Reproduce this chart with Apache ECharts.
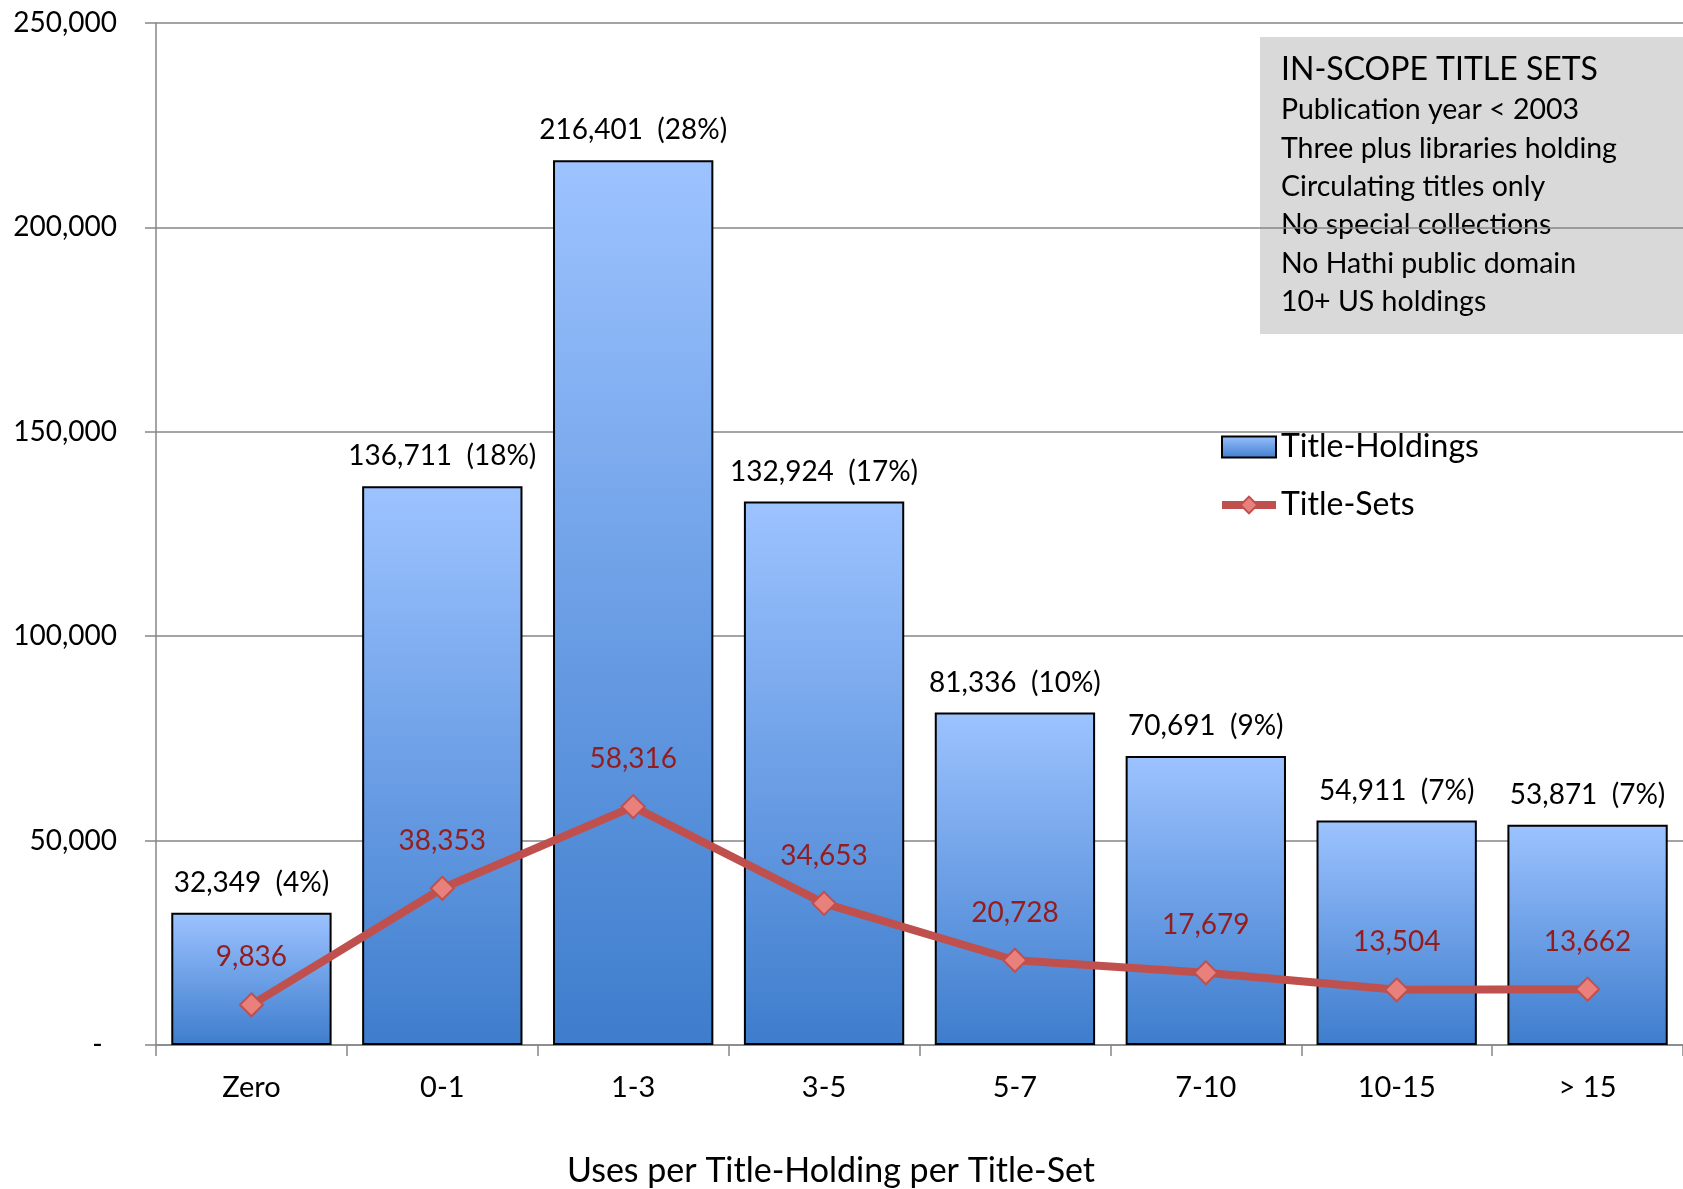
<!DOCTYPE html>
<html>
<head>
<meta charset="utf-8">
<script src="https://cdn.jsdelivr.net/npm/echarts@6/dist/echarts.min.js"></script>
<style>
html,body{margin:0;padding:0;background:#fff;}
#chart{width:1683px;height:1189px;}
</style>
</head>
<body>
<div id="chart"></div>
<script>
const categories = ['Zero', '0-1', '1-3', '3-5', '5-7', '7-10', '10-15', '> 15'];
const titleHoldings = [32349, 136711, 216401, 132924, 81336, 70691, 54911, 53871];
const holdingsPct = [4, 18, 28, 17, 10, 9, 7, 7];
const titleSets = [9836, 38353, 58316, 34653, 20728, 17679, 13504, 13662];
const yTicks = [0, 50000, 100000, 150000, 200000, 250000];
const boxTitle = 'IN-SCOPE TITLE SETS';
const boxLines = [
  'Publication year < 2003',
  'Three plus libraries holding',
  'Circulating titles only',
  'No special collections',
  'No Hathi public domain',
  '10+ US holdings'
];
const xAxisTitle = 'Uses per Title-Holding per Title-Set';

const FONT = 'Lato';
const fmt = v => v.toLocaleString('en-US');
const chart = echarts.init(document.getElementById('chart'));

const barGradient = new echarts.graphic.LinearGradient(0,0,0,1,[
  {offset:0, color:'#9dc3ff'}, {offset:0.5, color:'#6c9fe6'}, {offset:1, color:'#3e7dcc'}
]);

const boxGraphics = [
  {type:'rect', z:-10, shape:{x:1260, y:37, width:423, height:297}, style:{fill:'#d9d9d9'}},
  {type:'text', z:-9, x:1281, y:70, style:{text:boxTitle, font:'32px ' + FONT, fill:'#000', verticalAlign:'middle'}}
];
boxLines.forEach((t, i) => {
  boxGraphics.push({type:'text', z:-9, x:1281, y:110 + i * 38.4,
    style:{text:t, font:'28.5px ' + FONT, fill:'#000', verticalAlign:'middle'}});
});
boxGraphics.push({type:'text', x:831, y:1171, style:{text:xAxisTitle, font:'34px ' + FONT, fill:'#000', align:'center', verticalAlign:'middle'}});

chart.setOption({
  animation:false,
  textStyle:{fontFamily:FONT},
  grid:{left:156, right:0, top:23, bottom:144, containLabel:false},
  legend:{
    orient:'vertical', left:1213, top:426, itemWidth:54, itemHeight:21, itemGap:26,
    textStyle:{fontSize:32, color:'#000', fontFamily:FONT},
    data:[
      {name:'Title-Holdings', icon:'rect', itemStyle:{color:barGradient, borderColor:'#000', borderWidth:2}},
      {name:'Title-Sets', lineStyle:{color:'#c0504d', width:8}, itemStyle:{color:'#e8807c', borderColor:'#c0504d', borderWidth:2}}
    ]
  },
  graphic:boxGraphics,
  xAxis:{
    type:'category', data:categories,
    axisLine:{lineStyle:{color:'#868686', width:1.5}},
    axisTick:{show:true, length:11, lineStyle:{color:'#868686', width:1.5}},
    axisLabel:{fontSize:29, color:'#000', margin:28, fontFamily:FONT}
  },
  yAxis:{
    type:'value', min:0, max:250000, interval:50000,
    axisLine:{show:true, lineStyle:{color:'#868686', width:1.5}},
    axisTick:{show:true, length:11, lineStyle:{color:'#868686', width:1.5}},
    splitLine:{lineStyle:{color:'#868686', width:1.5}},
    axisLabel:{fontSize:28, color:'#000', margin:39, fontFamily:FONT,
      formatter: v => v === yTicks[0] ? '-  ' : fmt(v)}
  },
  series:[
    {
      name:'Title-Holdings', type:'bar', data:titleHoldings, barCategoryGap:'16%',
      itemStyle:{color:barGradient, borderColor:'#000', borderWidth:2},
      label:{show:true, position:'top', distance:16, fontSize:28, color:'#000', fontFamily:FONT,
        formatter: p => fmt(p.value) + '  (' + holdingsPct[p.dataIndex] + '%)'}
    },
    {
      name:'Title-Sets', type:'line', data:titleSets, z:5,
      symbol:'diamond', symbolSize:23,
      lineStyle:{color:'#c0504d', width:8},
      itemStyle:{color:'#e8807c', borderColor:'#c0504d', borderWidth:2},
      label:{show:true, position:'top', distance:21, fontSize:28, color:'#941c1c', fontFamily:FONT,
        formatter: p => fmt(p.value)}
    }
  ]
});
</script>
</body>
</html>
